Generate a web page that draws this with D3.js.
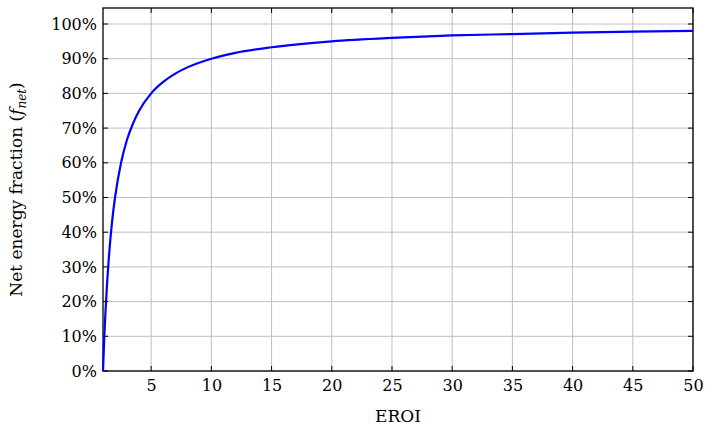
<!DOCTYPE html>
<html><head><meta charset="utf-8">
<script src="https://cdn.jsdelivr.net/npm/d3@7"></script>
<style>body{margin:0;background:#fff}svg text{font-family:"DejaVu Serif","Liberation Serif",serif !important}</style>
</head><body><svg id="c" width="710" height="431"></svg>
<script>
const eroi = [1,1.1,1.2,1.35,1.5,1.75,2,2.5,3,3.5,4,5,6,7,8,10,12,15,20,25,30,35,40,45,50];
const fnet = [0,0.091,0.167,0.259,0.333,0.429,0.5,0.6,0.667,0.714,0.75,0.8,0.833,0.857,0.875,0.9,0.917,0.933,0.95,0.96,0.967,0.971,0.975,0.978,0.98];
const xTicks = [5,10,15,20,25,30,35,40,45,50];
const yTicks = [0,0.1,0.2,0.3,0.4,0.5,0.6,0.7,0.8,0.9,1.0];

const L=103,R=693,T=8,B=371;
const svg=d3.select("#c");
const x=d3.scaleLinear().domain([1,50]).range([L,R]);
const y=d3.scaleLinear().domain([0,1]).range([B,24]);
const g=svg.append("g");
g.selectAll(".vx").data(xTicks).join("line").attr("x1",d=>x(d)).attr("x2",d=>x(d)).attr("y1",T).attr("y2",B).attr("stroke","#bfbfbf").attr("stroke-width",1);
g.selectAll(".hy").data(yTicks).join("line").attr("x1",L).attr("x2",R).attr("y1",d=>y(d)).attr("y2",d=>y(d)).attr("stroke","#bfbfbf").attr("stroke-width",1);
const xa=svg.append("g").attr("transform",`translate(0,${B})`).call(d3.axisBottom(x).tickValues(xTicks).tickSize(0).tickPadding(9));
const ya=svg.append("g").attr("transform",`translate(${L},0)`).call(d3.axisLeft(y).tickValues(yTicks).tickFormat(d=>Math.round(d*100)+"%").tickSize(0).tickPadding(6));
[xa,ya].forEach(a=>{a.select(".domain").remove();a.attr("font-family",null);a.selectAll("text").attr("font-size",16).attr("fill","#000");});
svg.append("g").selectAll("line").data(xTicks).join("line").attr("x1",d=>x(d)).attr("x2",d=>x(d)).attr("y1",B).attr("y2",B-5).attr("stroke","#000");
svg.append("g").selectAll("line").data(xTicks).join("line").attr("x1",d=>x(d)).attr("x2",d=>x(d)).attr("y1",T).attr("y2",T+5).attr("stroke","#000");
svg.append("g").selectAll("line").data(yTicks).join("line").attr("x1",L).attr("x2",L+5).attr("y1",d=>y(d)).attr("y2",d=>y(d)).attr("stroke","#000");
svg.append("g").selectAll("line").data(yTicks).join("line").attr("x1",R).attr("x2",R-5).attr("y1",d=>y(d)).attr("y2",d=>y(d)).attr("stroke","#000");
svg.append("rect").attr("x",L).attr("y",T).attr("width",R-L).attr("height",B-T).attr("fill","none").attr("stroke","#000").attr("stroke-width",1.3);
const pts=eroi.map((e,i)=>[e,fnet[i]]);
svg.append("path").datum(pts).attr("fill","none").attr("stroke","#0000ff").attr("stroke-width",2.2)
 .attr("d",d3.line().x(d=>x(d[0])).y(d=>y(d[1])).curve(d3.curveMonotoneX));
svg.append("text").attr("x",(L+R)/2).attr("y",422).attr("text-anchor","middle").attr("font-size",17).text("EROI");
const yl=svg.append("text").attr("transform",`translate(22,${(T+B)/2}) rotate(-90)`).attr("text-anchor","middle").attr("font-size",17);
yl.append("tspan").text("Net energy fraction (");
yl.append("tspan").attr("font-style","italic").text("f");
yl.append("tspan").attr("font-style","italic").attr("font-size",12).attr("dy",4).text("net");
yl.append("tspan").attr("dy",-4).text(")");
</script></body></html>
